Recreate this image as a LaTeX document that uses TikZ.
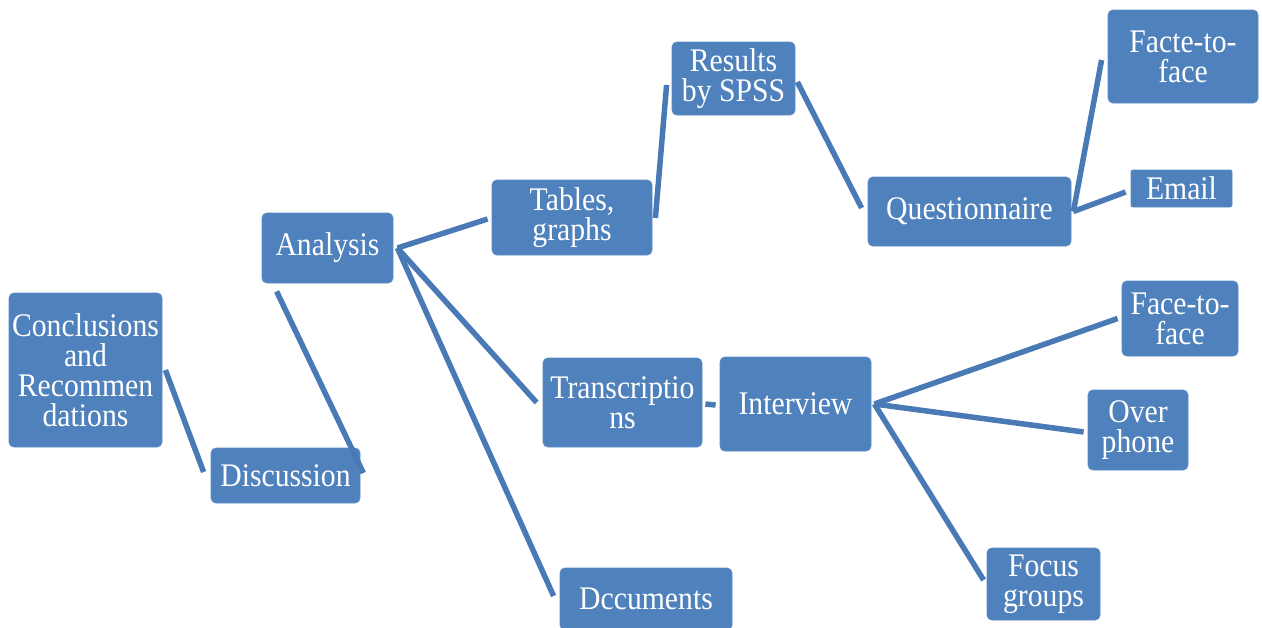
\documentclass[tikz,border=0pt]{standalone}
\usepackage{fontspec}
\setmainfont{Liberation Serif}[FakeStretch=0.9]
\definecolor{boxblue}{HTML}{4F81BD}
\definecolor{edgeblue}{HTML}{5A8AC4}
\definecolor{lineblue}{HTML}{4A7AB6}
\begin{document}
\begin{tikzpicture}[x=1pt,y=-1pt,
  box/.style={rectangle, rounded corners=5pt, fill=boxblue, draw=edgeblue, line width=0.8pt,
    text=white, align=center, inner sep=0pt,
    font=\fontsize{33}{30}\selectfont},
  conn/.style={draw=lineblue, line width=5.5pt}]
\useasboundingbox (0,0) rectangle (1262,627);
% nodes
\node[box, minimum width=153, minimum height=154] (concl) at (85.5,370) {Conclusions\\and\\Recommen\\dations};
\node[box, minimum width=149, minimum height=55] (disc) at (285.5,475.5) {Discussion};
\node[box, minimum width=131, minimum height=70] (analysis) at (327.5,248) {Analysis};
\node[box, minimum width=160, minimum height=75] (tables) at (572,217.5) {Tables,\\graphs};
\node[box, minimum width=123, minimum height=73] (spss) at (733.5,78.5) {Results\\by SPSS};
\node[box, minimum width=203, minimum height=69] (quest) at (969.5,211.5) {Questionnaire};
\node[box, minimum width=150, minimum height=93] (facte) at (1183,56.5) {Facte-to-\\face};
\node[box, minimum width=101, minimum height=37, rounded corners=2pt] (email) at (1181.5,188.5) {Email};
\node[box, minimum width=159, minimum height=89] (trans) at (622.5,402.5) {Transcriptio\\ns};
\node[box, minimum width=151, minimum height=94] (interview) at (795.5,404) {Interview};
\node[box, minimum width=116, minimum height=75] (face) at (1180,318.5) {Face-to-\\face};
\node[box, minimum width=100, minimum height=80] (over) at (1138,430) {Over\\phone};
\node[box, minimum width=113, minimum height=72] (focus) at (1043.5,584) {Focus\\groups};
\node[box, minimum width=172, minimum height=62] (docs) at (646,599) {Dccuments};
% connectors
\draw[conn] ([shift={(3,0)}]concl.east) -- ([shift={(-7,-3.5)}]disc.west);
\draw[conn] ([shift={(3,-2.5)}]disc.east) -- ([shift={(15,8)}]analysis.south west);
\draw[conn] ([shift={(4,0)}]analysis.east) -- ([shift={(-4,1.5)}]tables.west);
\draw[conn] ([shift={(4,0)}]analysis.east) -- ([shift={(-6,0)}]trans.west);
\draw[conn] ([shift={(4,0)}]analysis.east) -- ([shift={(-6,-3)}]docs.west);
\draw[conn] ([shift={(3,0.5)}]tables.east) -- ([shift={(-5,6.5)}]spss.west);
\draw[conn] ([shift={(2,3.5)}]spss.east) -- ([shift={(-6,-3.5)}]quest.west);
\draw[conn] ([shift={(2,0)}]quest.east) -- ([shift={(-6,3.5)}]facte.west);
\draw[conn] ([shift={(2,0)}]quest.east) -- ([shift={(-5,3.5)}]email.west);
\draw[conn] ([shift={(3,1.5)}]trans.east) -- ([shift={(-4,1)}]interview.west);
\draw[conn] ([shift={(3,0)}]interview.east) -- ([shift={(-4,0)}]face.west);
\draw[conn] ([shift={(3,0)}]interview.east) -- ([shift={(-4,2)}]over.west);
\draw[conn] ([shift={(3,0)}]interview.east) -- ([shift={(-3,-4)}]focus.west);
\end{tikzpicture}
\end{document}
